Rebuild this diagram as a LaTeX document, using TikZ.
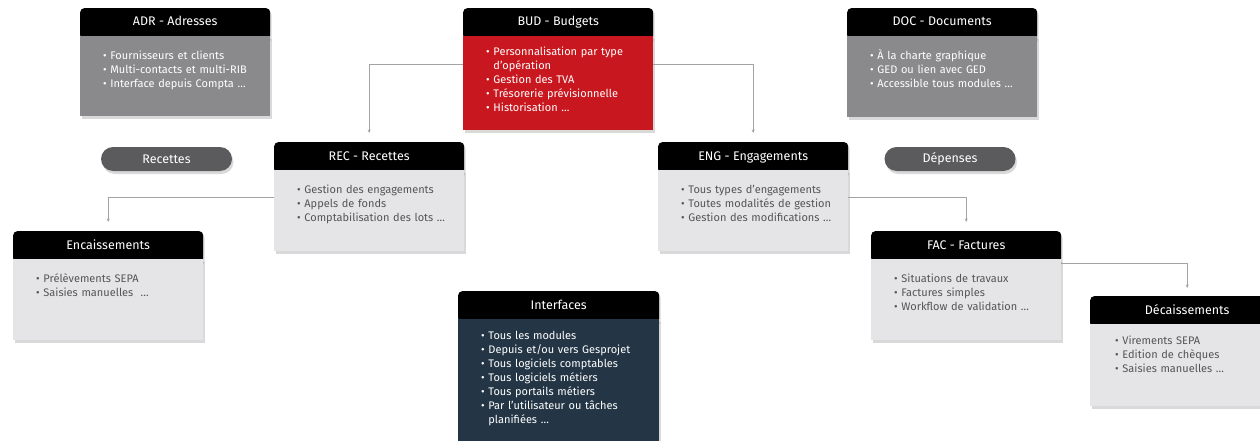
\documentclass[tikz,border=0pt]{standalone}
\usepackage{fontspec}
\setmainfont{Fira Sans}
\usetikzlibrary{positioning,shadows,arrows.meta}
\definecolor{gris}{HTML}{8A8A8D}
\definecolor{rouge}{HTML}{C8171E}
\definecolor{clair}{HTML}{E5E5E7}
\definecolor{marine}{HTML}{243646}
\definecolor{textegris}{HTML}{555557}
\definecolor{pilule}{HTML}{5B5B5D}
\definecolor{lien}{HTML}{A3A3A5}
\newcommand{\titrefont}{\fontsize{12.5}{14}\selectfont}
\newcommand{\pucefont}{\fontsize{11}{14}\selectfont}
% pas de coupure des lignes trop longues
\newcommand{\sanscoupure}{\raggedright\rightskip=-40pt plus 1fil\relax}

\begin{document}
\begin{tikzpicture}[x=1pt, y=-1pt, line join=round,
    ombre/.style={drop shadow={shadow xshift=1.5pt, shadow yshift=-3pt, opacity=0.3}},
    entete/.style={anchor=north west, fill=black, text=white, rounded corners=4pt,
      minimum width=190pt, inner ysep=0pt, text height=17.8pt, text depth=13.2pt,
      font=\titrefont, ombre},
    corps/.style={fill=#1, minimum width=190pt, text width=144pt, inner xsep=23pt,
      inner ysep=0pt, text height=24pt, text depth=57pt, font=\pucefont,
      execute at begin node=\sanscoupure, ombre},
    fonce/.style={corps=#1, text=white},
    pale/.style={corps=clair, text=textegris},
    pilule/.style={fill=pilule, text=white, rounded corners=12pt, minimum width=131pt,
      minimum height=24pt, inner sep=0pt, font=\titrefont, ombre},
    lien/.style={draw=lien, line width=0.7pt, -{Stealth[length=3.5pt,width=3pt]}}]
  \useasboundingbox (0,0) rectangle (1260,441);

  % modules du haut
  \node[entete] (adr-t) at (80,8) {ADR - Adresses};
  \node[fonce=gris, text depth=56pt, below=-4pt of adr-t] (adr)
    {• Fournisseurs et clients\\• Multi-contacts et multi-RIB\\• Interface depuis Compta …};
  \node[entete] (bud-t) at (463,8) {BUD - Budgets};
  \node[fonce=rouge, text height=20pt, text depth=74pt, below=-4pt of bud-t] (bud)
    {• Personnalisation par type\\\phantom{• }d’opération\\• Gestion des TVA\\• Trésorerie prévisionnelle\\• Historisation …};
  \node[entete] (doc-t) at (847,8) {DOC - Documents};
  \node[fonce=gris, below=-4pt of doc-t] (doc)
    {• À la charte graphique\\• GED ou lien avec GED\\• Accessible tous modules …};

  % recettes / depenses
  \node[pilule] (rec-p) at (166.5,159) {Recettes};
  \node[pilule] (dep-p) at (950,159) {Dépenses};
  \node[entete] (rec-t) at (274,142) {REC - Recettes};
  \node[pale, below=-4pt of rec-t] (rec)
    {• Gestion des engagements\\• Appels de fonds\\• Comptabilisation des lots …};
  \node[entete] (eng-t) at (658,142) {ENG - Engagements};
  \node[pale, below=-4pt of eng-t] (eng)
    {• Tous types d’engagements\\• Toutes modalités de gestion\\• Gestion des modifications …};

  \node[entete] (enc-t) at (13,231) {Encaissements};
  \node[pale, below=-4pt of enc-t] (enc)
    {• Prélèvements SEPA\\• Saisies manuelles~ …};
  \node[entete] (fac-t) at (871,231) {FAC - Factures};
  \node[pale, below=-4pt of fac-t] (fac)
    {• Situations de travaux\\• Factures simples\\• Workflow de validation …};
  \node[entete, minimum width=194pt] (dec-t) at (1090,296) {Décaissements};
  \node[pale, minimum width=194pt, text height=21pt, text depth=61pt, below=-4pt of dec-t] (dec)
    {• Virements SEPA\\• Edition de chèques\\• Saisies manuelles …};

  \node[entete, minimum width=201pt] (int-t) at (458,291) {Interfaces};
  \node[fonce=marine, minimum width=201pt, text width=155pt, text height=21pt, text depth=125pt,
    below=-4pt of int-t] (int)
    {• Tous les modules\\• Depuis et/ou vers Gesprojet\\• Tous logiciels comptables\\• Tous logiciels métiers\\• Tous portails métiers\\• Par l’utilisateur ou tâches\\\phantom{• }planifiées …};

  % liens
  \draw[lien] ([yshift=-29pt]bud.north west) -| ([yshift=9pt]rec-t.north);
  \draw[lien] ([yshift=-29pt]bud.north east) -| ([yshift=9pt]eng-t.north);
  \draw[lien] ([yshift=-28pt]rec.north west) -| ([yshift=9pt]enc-t.north);
  \draw[lien] ([yshift=-28pt]eng.north east) -| ([yshift=9pt]fac-t.north);
  \draw[lien] ([yshift=-5pt]fac.north east) -| ([yshift=8pt]dec-t.north);
\end{tikzpicture}
\end{document}
